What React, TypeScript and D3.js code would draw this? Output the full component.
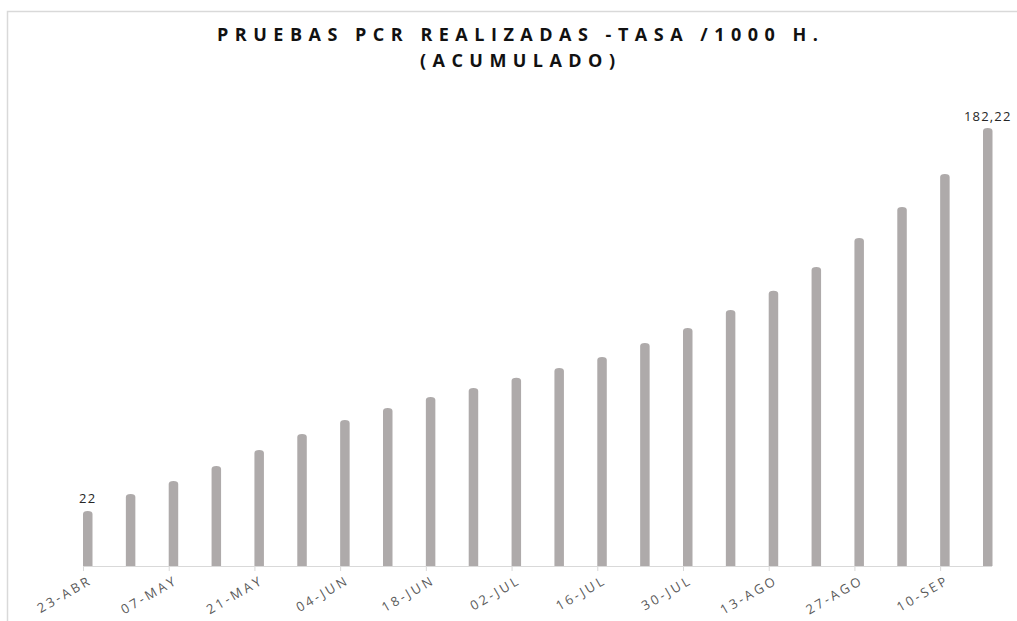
import React from "react";
import * as d3 from "d3";

// semanas (cada jueves), etiqueta en una de cada dos
const fechas = [
  "23-ABR", "30-ABR", "07-MAY", "14-MAY", "21-MAY", "28-MAY", "04-JUN", "11-JUN",
  "18-JUN", "25-JUN", "02-JUL", "09-JUL", "16-JUL", "23-JUL", "30-JUL", "06-AGO",
  "13-AGO", "20-AGO", "27-AGO", "03-SEP", "10-SEP", "17-SEP",
];
const tasa = [
  22, 29.1, 34.6, 40.8, 47.5, 54.2, 60.1, 65.1, 69.7, 73.5, 77.7, 81.8, 86.4,
  92.3, 98.6, 106.1, 114.1, 124.1, 136.2, 149.2, 163.0, 182.22,
];
const etiquetasValor = ["22", "182,22"];
const titulo = ["PRUEBAS PCR REALIZADAS -TASA /1000 H.", "(ACUMULADO)"];

const W = 1017;
const H = 621;
const FONT = "'Open Sans', Lato, sans-serif";

const App = () => {
  const axisY = 566;
  const barW = 9.5;
  const x = d3.scalePoint<string>().domain(fechas).range([83, 983]);
  const y = d3.scaleLinear().domain([0, d3.max(tasa) as number]).range([563.6, 128]);

  const barPath = (d: string, v: number) => {
    const x0 = x(d) as number;
    const top = y(v);
    const ry = 3;
    return `M${x0},${axisY} L${x0},${top + ry} A${barW / 2},${ry} 0 0 1 ${x0 + barW},${top + ry} L${x0 + barW},${axisY} Z`;
  };

  const last = fechas.length - 1;

  return (
    <svg
      width={W}
      height={H}
      style={{ position: "absolute", left: 0, top: 0, background: "#fff" }}
    >
      {/* marco */}
      <path d={`M7.5,${H} L7.5,11.5 L${W},11.5`} fill="none" stroke="#d9d9d9" strokeWidth={1.5} />

      {/* titulo */}
      <text x={517.5} y={41} textAnchor="middle" fontFamily={FONT} fontWeight="bold" fontSize={18}
        textLength={601} lengthAdjust="spacing" fill="#111">
        {titulo[0]}
      </text>
      <text x={517.5} y={67} textAnchor="middle" fontFamily={FONT} fontWeight="bold" fontSize={18}
        textLength={195} lengthAdjust="spacing" fill="#111">
        {titulo[1]}
      </text>

      {/* barras */}
      {fechas.map((d, i) => (
        <path key={d} d={barPath(d, tasa[i])} fill="#aeaaaa" />
      ))}

      {/* eje */}
      <line x1={83} x2={992} y1={axisY + 0.5} y2={axisY + 0.5} stroke="#d9d9d9" />
      {fechas.map((d, i) =>
        i % 2 === 0 ? (
          <g key={"t" + d}>
            <line x1={(x(d) as number) + 0.5} x2={(x(d) as number) + 0.5} y1={axisY} y2={axisY + 5} stroke="#d9d9d9" />
            <text
              transform={`translate(${(x(d) as number) + 10},${583}) rotate(-30)`}
              textAnchor="end"
              fontFamily={FONT}
              fontSize={13}
              letterSpacing={2.8}
              fill="#595959"
            >
              {d}
            </text>
          </g>
        ) : null
      )}

      {/* etiquetas de valor */}
      <text x={(x(fechas[0]) as number) + barW / 2} y={503} textAnchor="middle" fontFamily={FONT}
        fontSize={13} letterSpacing={1.2} fill="#262626">
        {etiquetasValor[0]}
      </text>
      <text x={(x(fechas[last]) as number) + barW / 2} y={121} textAnchor="middle" fontFamily={FONT}
        fontSize={13} letterSpacing={1.2} fill="#262626">
        {etiquetasValor[1]}
      </text>
    </svg>
  );
};

export default App;
